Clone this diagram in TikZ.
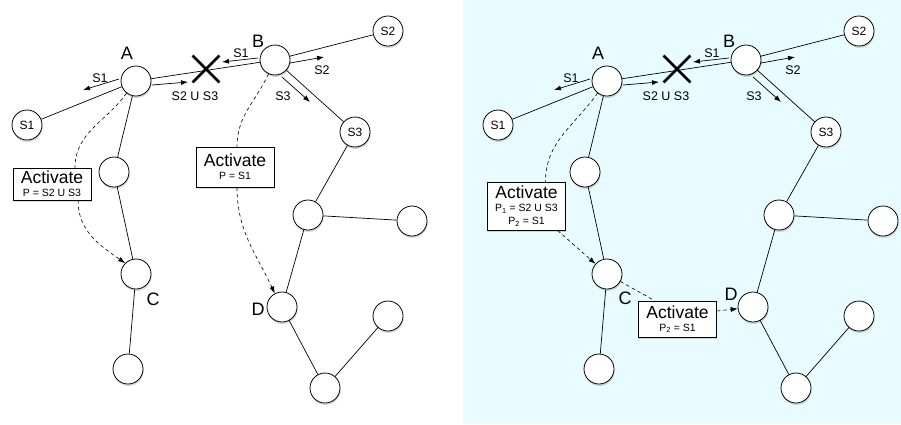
\documentclass[tikz,border=0pt]{standalone}
\usepackage{fontspec}
\setmainfont{Liberation Sans}
\usetikzlibrary{shapes,arrows,arrows.meta,positioning,calc,shadows}
\definecolor{panelcyan}{RGB}{232, 252, 255}

\begin{document}
\begin{tikzpicture}[x=1pt, y=1pt, >={Latex[length=7pt, width=5pt]}]
    \tikzstyle{peer} = [circle, draw, fill=white, minimum size=30pt, inner sep=0pt, line width=0.8pt, drop shadow={shadow xshift=0.6pt, shadow yshift=-2pt, opacity=0.3}, font=\fontsize{12}{12}\selectfont]
    \tikzstyle{box} = [rectangle, draw, fill=white, minimum width=78pt, inner sep=2pt, align=center, line width=0.8pt, drop shadow={shadow xshift=0.6pt, shadow yshift=-2pt, opacity=0.3}, font=\fontsize{10.5}{13}\selectfont]
    \tikzstyle{cut} = [cross out, draw, line width=2.8pt, minimum size=24pt, inner sep=0pt]
    \tikzstyle{line} = [draw, line width=0.7pt]
    \tikzstyle{flow} = [draw, ->, line width=0.7pt]
    \tikzstyle{link} = [draw, dash pattern=on 3.5pt off 3pt, line width=0.6pt]
    \tikzstyle{act} = [link, ->]
    \tikzstyle{tag} = [font=\fontsize{18}{18}\selectfont, inner sep=0pt]
    \tikzstyle{lbl} = [font=\fontsize{12.5}{12.5}\selectfont, inner sep=0pt]
    \newcommand{\acttitle}{{\fontsize{17.5}{17.5}\selectfont Activate}}

    \useasboundingbox (0,0) rectangle (901,-424);
    \fill [panelcyan] (463,0) rectangle (901,-424);

    \node [peer] (aL) at (136,-81) {};
    \node [peer] (bL) at (275,-60) {};
    \node [peer] (s1L) at (27,-125) {S1};
    \node [peer] (s2L) at (388,-31) {S2};
    \node [peer] (s3L) at (355,-132) {S3};
    \node [peer] (u1L) at (114,-172) {};
    \node [peer] (cL) at (136,-274) {};
    \node [peer] (u2L) at (128,-369) {};
    \node [peer] (u3L) at (308,-215) {};
    \node [peer] (u4L) at (412,-221) {};
    \node [peer] (dL) at (282,-307) {};
    \node [peer] (u5L) at (388,-316) {};
    \node [peer] (u6L) at (325,-388) {};
    \node [cut] (xL) at (206,-69) {};

    \path [line] (aL) -- (s1L);
    \path [line] (aL) -- (bL);
    \path [line] (bL) -- (s2L);
    \path [line] (bL) -- (s3L);
    \path [line] (aL) -- (u1L);
    \path [line] (u1L) -- (cL);
    \path [line] (cL) -- (u2L);
    \path [line] (s3L) -- (u3L);
    \path [line] (u3L) -- (u4L);
    \path [line] (u3L) -- (dL);
    \path [line] (dL) -- (u6L);
    \path [line] (u6L) -- (u5L);

    \node [tag] at ([shift={(-9,28)}]aL.center) {A};
    \node [tag] at ([shift={(-17,19)}]bL.center) {B};
    \node [tag] at ([shift={(17,-25)}]cL.center) {C};
    \node [tag] at ([shift={(-24,-2)}]dL.center) {D};

    \path [flow] ([shift={(-17,2)}]aL.center) -- ([shift={(-53,-9)}]aL.center);
    \node [lbl] at ([shift={(-36,3)}]aL.center) {S1};
    \path [flow] ([shift={(16,-4)}]aL.center) -- ([shift={(52,-1)}]aL.center);
    \node [lbl] at ([shift={(59,-15)}]aL.center) {S2 U S3};
    \path [flow] ([shift={(-17,2)}]bL.center) -- ([shift={(-53,-2)}]bL.center);
    \node [lbl] at ([shift={(-34,7)}]bL.center) {S1};
    \path [flow] ([shift={(15,-3)}]bL.center) -- ([shift={(49,3)}]bL.center);
    \node [lbl] at ([shift={(47,-10)}]bL.center) {S2};
    \path [flow] ([shift={(7,-17)}]bL.center) -- ([shift={(35,-42)}]bL.center);
    \node [lbl] at ([shift={(8,-36)}]bL.center) {S3};

    \node [box, minimum height=32pt] (actL1) at (52,-184) {\acttitle\\P = S2 U S3};
    \node [box, minimum height=40pt] (actL2) at (235,-167) {\acttitle\\P = S1};

    \path [link] (aL.232) to [out=235, in=90] ([xshift=23pt]actL1.north);
    \path [act] ([xshift=26pt]actL1.south) to [out=-90, in=145] (cL.135);
    \path [link] (bL.245) to [out=245, in=90] ([xshift=2pt]actL2.north);
    \path [act] ([xshift=2pt]actL2.south) to [out=-90, in=115] (dL.118);

    \node [peer] (aR) at (607,-81) {};
    \node [peer] (bR) at (746,-60) {};
    \node [peer] (s1R) at (498,-125) {S1};
    \node [peer] (s2R) at (859,-31) {S2};
    \node [peer] (s3R) at (826,-132) {S3};
    \node [peer] (u1R) at (585,-172) {};
    \node [peer] (cR) at (607,-274) {};
    \node [peer] (u2R) at (599,-369) {};
    \node [peer] (u3R) at (779,-215) {};
    \node [peer] (u4R) at (883,-221) {};
    \node [peer] (dR) at (753,-307) {};
    \node [peer] (u5R) at (859,-316) {};
    \node [peer] (u6R) at (796,-388) {};
    \node [cut] (xR) at (677,-69) {};

    \path [line] (aR) -- (s1R);
    \path [line] (aR) -- (bR);
    \path [line] (bR) -- (s2R);
    \path [line] (bR) -- (s3R);
    \path [line] (aR) -- (u1R);
    \path [line] (u1R) -- (cR);
    \path [line] (cR) -- (u2R);
    \path [line] (s3R) -- (u3R);
    \path [line] (u3R) -- (u4R);
    \path [line] (u3R) -- (dR);
    \path [line] (dR) -- (u6R);
    \path [line] (u6R) -- (u5R);

    \node [tag] at ([shift={(-9,28)}]aR.center) {A};
    \node [tag] at ([shift={(-17,19)}]bR.center) {B};
    \node [tag] at ([shift={(18,-24)}]cR.center) {C};
    \node [tag] at ([shift={(-22,13)}]dR.center) {D};

    \path [flow] ([shift={(-17,2)}]aR.center) -- ([shift={(-53,-9)}]aR.center);
    \node [lbl] at ([shift={(-36,3)}]aR.center) {S1};
    \path [flow] ([shift={(16,-4)}]aR.center) -- ([shift={(52,-1)}]aR.center);
    \node [lbl] at ([shift={(59,-15)}]aR.center) {S2 U S3};
    \path [flow] ([shift={(-17,2)}]bR.center) -- ([shift={(-53,-2)}]bR.center);
    \node [lbl] at ([shift={(-34,7)}]bR.center) {S1};
    \path [flow] ([shift={(15,-3)}]bR.center) -- ([shift={(49,3)}]bR.center);
    \node [lbl] at ([shift={(47,-10)}]bR.center) {S2};
    \path [flow] ([shift={(7,-17)}]bR.center) -- ([shift={(35,-42)}]bR.center);
    \node [lbl] at ([shift={(8,-36)}]bR.center) {S3};

    \node [box, minimum height=48pt] (actR1) at (526.5,-206) {\acttitle\\P\textsubscript{1} = S2 U S3\\P\textsubscript{2} = S1};
    \node [box, minimum height=36pt] (actR2) at (677.5,-319) {\acttitle\\P\textsubscript{2} = S1};

    \path [link] (aR.232) to [out=235, in=90] ([xshift=19pt]actR1.north);
    \path [act] ([xshift=31pt]actR1.south) -- (cR);
    \path [link] (cR) -- ([xshift=-23pt]actR2.north);
    \path [act] ([yshift=8pt]actR2.east) -- (dR);
\end{tikzpicture}
\end{document}
